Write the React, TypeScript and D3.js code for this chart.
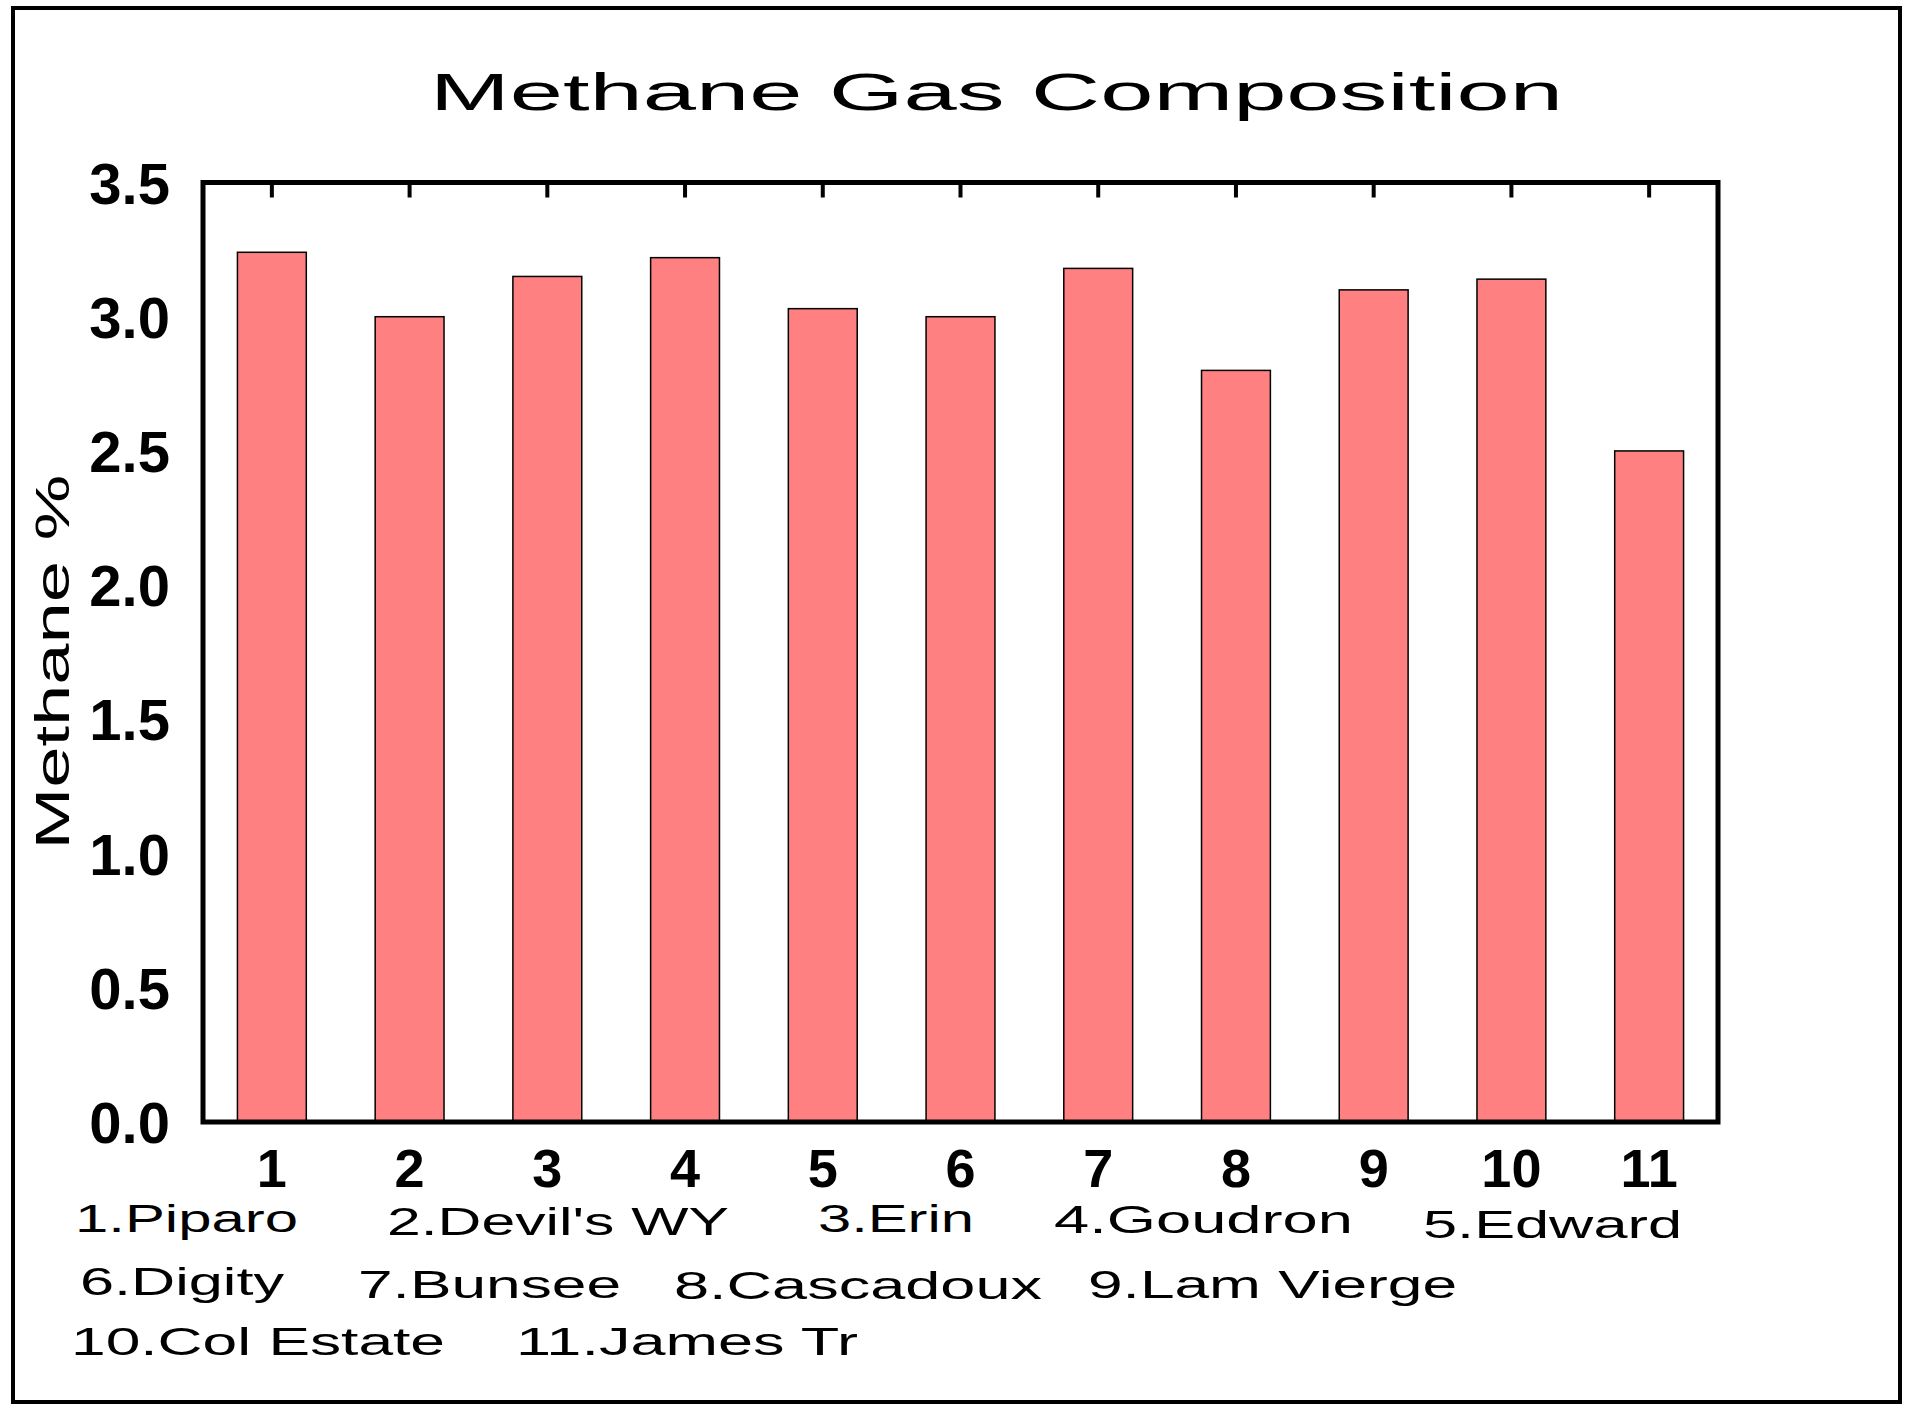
import * as d3 from "d3";

const categories = ["1", "2", "3", "4", "5", "6", "7", "8", "9", "10", "11"];
const methane = [3.24, 3.0, 3.15, 3.22, 3.03, 3.0, 3.18, 2.8, 3.1, 3.14, 2.5];
const yTicks = [0, 0.5, 1.0, 1.5, 2.0, 2.5, 3.0, 3.5];
const siteNames = [
  "1.Piparo", "2.Devil's WY", "3.Erin", "4.Goudron", "5.Edward",
  "6.Digity", "7.Bunsee", "8.Cascadoux", "9.Lam Vierge",
  "10.Col Estate", "11.James Tr",
];

// where each site name sits in the key under the chart: [x start, x end, baseline]
const keyLayout = [
  [75, 298, 1232], [387, 729, 1235], [818, 974, 1232], [1054, 1353, 1233], [1423, 1682, 1238],
  [80, 284, 1295], [358, 621, 1298], [674, 1042, 1299], [1088, 1457, 1298],
  [71, 445, 1355], [516, 858, 1355],
];

const W = 1915, H = 1417;
const left = 203, right = 1718, top = 182.5, bottom = 1122;
const font = "'Liberation Sans', Arial, sans-serif";

export default function App() {
  const x = d3.scaleBand().domain(categories).range([left, right]).paddingInner(0.5).paddingOuter(0.25);
  const y = d3.scaleLinear().domain([0, 3.5]).range([bottom, top]);

  return (
    <svg width={W} height={H} style={{ position: "absolute", left: 0, top: 0, background: "#fff" }}>
      <rect x={13} y={8} width={1887} height={1394} fill="#fff" stroke="#000" strokeWidth={4} />

      <text x={430} y={110} fontFamily={font} fontSize={52} textLength={1133} lengthAdjust="spacingAndGlyphs">
        Methane Gas Composition
      </text>

      {categories.map((c, i) => (
        <rect key={c} x={x(c)} y={y(methane[i])} width={x.bandwidth()} height={y(0) - y(methane[i])}
          fill="#FF8080" stroke="#000" strokeWidth={1.5} />
      ))}

      {categories.map((c) => (
        <line key={"t" + c} x1={x(c)! + x.bandwidth() / 2} x2={x(c)! + x.bandwidth() / 2}
          y1={top} y2={top + 15} stroke="#000" strokeWidth={4} />
      ))}

      <rect x={left} y={top} width={right - left} height={bottom - top} fill="none" stroke="#000" strokeWidth={5} />

      {yTicks.map((t) => (
        <text key={"y" + t} x={170} y={y(t) + 21} textAnchor="end" fontFamily={font} fontWeight="bold" fontSize={58}>
          {t.toFixed(1)}
        </text>
      ))}

      {categories.map((c) => (
        <text key={"x" + c} x={x(c)! + x.bandwidth() / 2} y={1187} textAnchor="middle"
          fontFamily={font} fontWeight="bold" fontSize={54}>
          {c}
        </text>
      ))}

      <text transform="translate(69,662) rotate(-90)" textAnchor="middle" fontFamily={font} fontSize={49}
        textLength={375} lengthAdjust="spacingAndGlyphs">
        Methane %
      </text>

      {siteNames.map((n, i) => {
        const [x0, x1, by] = keyLayout[i];
        return (
          <text key={n} x={x0} y={by} fontFamily={font} fontSize={38} textLength={x1 - x0}
            lengthAdjust="spacingAndGlyphs">
            {n}
          </text>
        );
      })}
    </svg>
  );
}
